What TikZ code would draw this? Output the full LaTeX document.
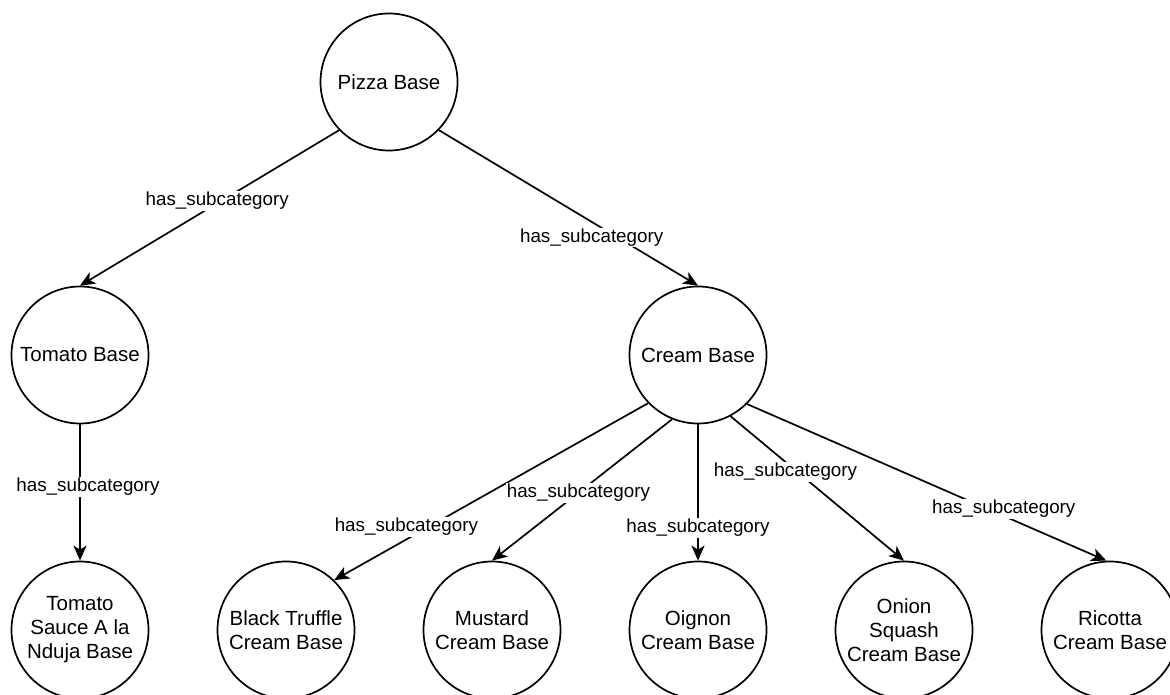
\documentclass[tikz,border=0pt]{standalone}
\usepackage{fontspec}
\setmainfont{Liberation Sans}
\usetikzlibrary{arrows.meta}
\begin{document}
\begin{tikzpicture}[x=1pt,y=-1pt,
  ent/.style={circle,draw,line width=1.7pt,minimum size=137pt,inner sep=0pt,align=center,
    font=\fontsize{20.5}{24}\selectfont},
  rel/.style={line width=1.7pt,-{Stealth[length=15pt,width=13pt,inset=4pt]}},
  lbl/.style={fill=white,inner sep=1pt,font=\fontsize{18.8}{22}\selectfont}]
\clip (0,0) rectangle (1170,695);
\useasboundingbox (0,0) rectangle (1170,695);

\node[ent] (pizza)  at (389,82)  {Pizza Base};
\node[ent] (tomato) at (80,355)  {Tomato Base};
\node[ent] (cream)  at (698,355) {Cream Base};
\node[ent] (sauce)  at (80,630)  {Tomato\\Sauce A la\\Nduja Base};
\node[ent] (truffle) at (286,630) {Black Truffle\\Cream Base};
\node[ent] (mustard) at (492,630) {Mustard\\Cream Base};
\node[ent] (oignon)  at (698,630) {Oignon\\Cream Base};
\node[ent] (squash)  at (904,630) {Onion\\Squash\\Cream Base};
\node[ent] (ricotta) at (1110,630) {Ricotta\\Cream Base};

\draw[rel] (pizza.224) -- node[lbl,pos=0.455,xshift=-4pt] {has\_subcategory} (tomato.north);
\draw[rel] (pizza.316) -- node[lbl,pos=0.69,xshift=-26pt] {has\_subcategory} (cream.north);
\draw[rel] (tomato.south) -- node[lbl,pos=0.46,xshift=8pt] {has\_subcategory} (sauce.north);
\draw[rel] (cream.224) -- node[lbl,pos=0.70,xshift=-22pt] {has\_subcategory} (truffle.46);
\draw[rel] (cream.248) -- node[lbl,pos=0.52] {has\_subcategory} (mustard.north);
\draw[rel] (cream.south) -- node[lbl,pos=0.76] {has\_subcategory} (oignon.north);
\draw[rel] (cream.298) -- node[lbl,pos=0.386,xshift=-12pt] {has\_subcategory} (squash.north);
\draw[rel] (cream.315) -- node[lbl,pos=0.67,xshift=16pt] {has\_subcategory} (ricotta.93);
\end{tikzpicture}
\end{document}
